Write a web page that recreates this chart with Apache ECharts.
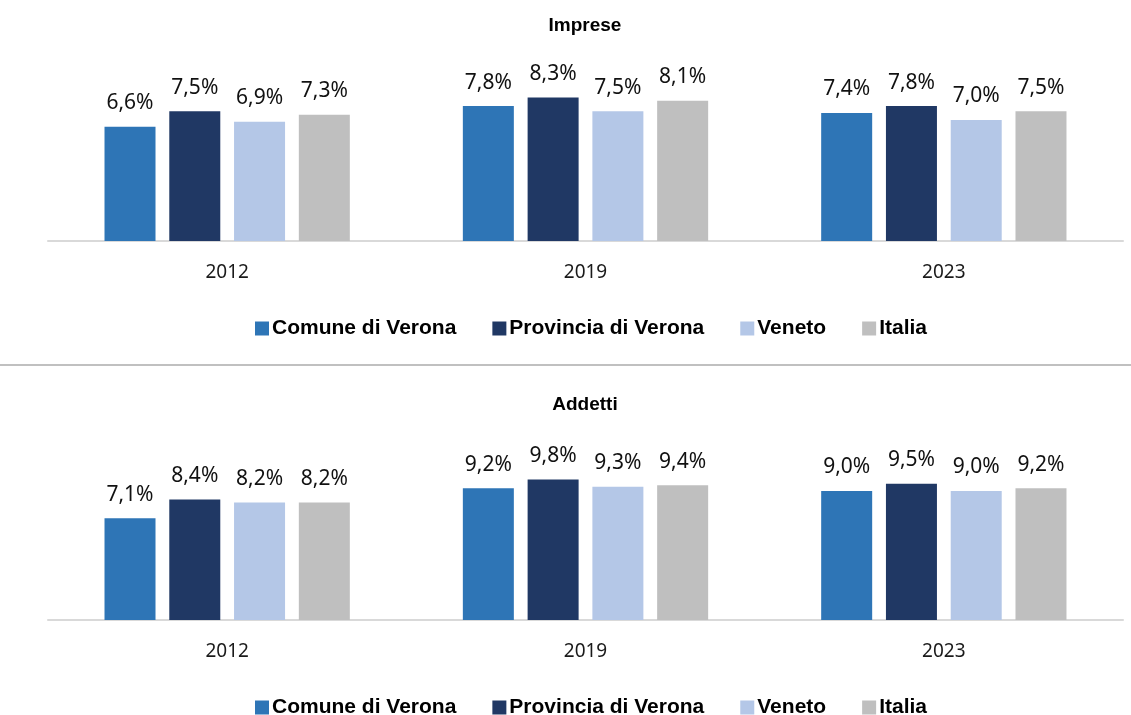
<!DOCTYPE html>
<html>
<head>
<meta charset="utf-8">
<script src="https://cdn.jsdelivr.net/npm/echarts@6/dist/echarts.min.js"></script>
<style>
  html, body { margin: 0; padding: 0; background: #fff; }
  #chart { width: 1131px; height: 715px; }
</style>
</head>
<body>
<div id="chart"></div>
<script>
// anni e serie
const years = ['2012', '2019', '2023']
const seriesNames = ['Comune di Verona', 'Provincia di Verona', 'Veneto', 'Italia']
const colors = ['#2e75b6', '#203864', '#b4c7e7', '#bfbfbf']

// Imprese (%)
const impreseComune = [6.6, 7.8, 7.4]
const impreseProvincia = [7.5, 8.3, 7.8]
const impreseVeneto = [6.9, 7.5, 7.0]
const impreseItalia = [7.3, 8.1, 7.5]

// Addetti (%)
const addettiComune = [7.1, 9.2, 9.0]
const addettiProvincia = [8.4, 9.8, 9.5]
const addettiVeneto = [8.2, 9.3, 9.0]
const addettiItalia = [8.2, 9.4, 9.2]

const impreseData = [impreseComune, impreseProvincia, impreseVeneto, impreseItalia]
const addettiData = [addettiComune, addettiProvincia, addettiVeneto, addettiItalia]

const chart = echarts.init(document.getElementById('chart'))

// serie a barre per un pannello
function makeSeries (data, idx) {
  return data.map((vals, i) => ({
    name: seriesNames[i],
    type: 'bar',
    xAxisIndex: idx,
    yAxisIndex: idx,
    data: vals,
    barWidth: 51,
    barGap: '27%',
    itemStyle: { color: colors[i] },
    label: {
      show: true,
      position: 'top',
      distance: 13,
      fontFamily: 'Noto Sans',
      fontSize: 21,
      color: '#111',
      formatter: (p) => p.value.toFixed(1).replace('.', ',') + '%'
    }
  }))
}

const axisX = (gridIndex) => ({
  type: 'category',
  gridIndex: gridIndex,
  data: years,
  axisLine: { lineStyle: { color: '#d9d9d9', width: 2 } },
  axisTick: { show: false },
  axisLabel: { fontFamily: 'Noto Sans', fontSize: 19, color: '#1a1a1a', margin: 22 }
})

const axisY = (gridIndex, max) => ({
  type: 'value',
  gridIndex: gridIndex,
  min: 0,
  max: max,
  show: false,
  splitLine: { show: false }
})

const legendBase = (top) => ({
  top: top,
  left: 250,
  icon: 'rect',
  itemWidth: 14,
  itemHeight: 14,
  itemGap: 36,
  itemStyle: { borderWidth: 0 },
  data: seriesNames,
  textStyle: { fontFamily: 'Liberation Sans', fontWeight: 'bold', fontSize: 21, color: '#000', padding: [0, 0, 0, -2] }
})

const titleStyle = { fontFamily: 'Liberation Sans', fontWeight: 'bold', fontSize: 19, color: '#000' }

const option = {
  animation: false,
  title: [
    { text: 'Imprese', left: 580, top: 11, textAlign: 'center', textStyle: titleStyle },
    { text: 'Addetti', left: 580, top: 390, textAlign: 'center', textStyle: titleStyle }
  ],
  legend: [legendBase(313), legendBase(692)],
  grid: [
    { left: 48, right: 8, top: 68, height: 173 },
    { left: 48, right: 8, top: 448, height: 172 }
  ],
  xAxis: [axisX(0), axisX(1)],
  yAxis: [axisY(0, 10), axisY(1, 12)],
  graphic: [
    { type: 'line', shape: { x1: 0, y1: 365, x2: 1131, y2: 365 },
      style: { stroke: '#c0c0c0', lineWidth: 2 } }
  ],
  series: makeSeries(impreseData, 0).concat(makeSeries(addettiData, 1))
}

chart.setOption(option)
</script>
</body>
</html>
